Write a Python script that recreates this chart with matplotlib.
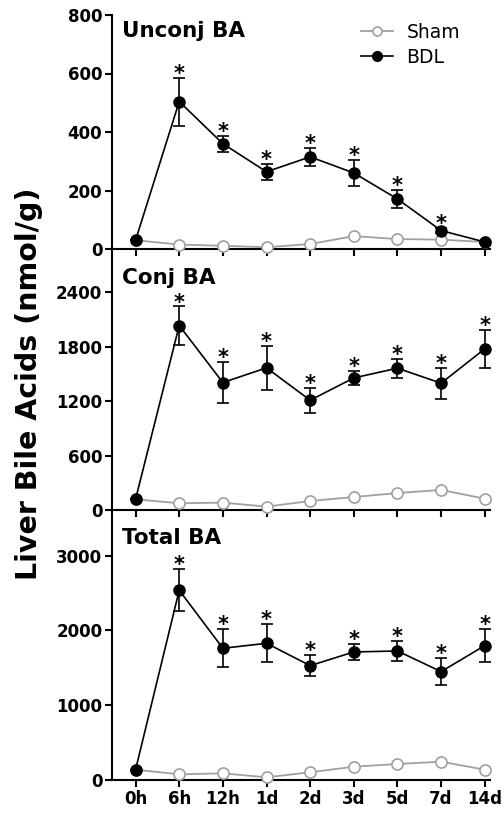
import numpy as np
import matplotlib
matplotlib.use("Agg")
import matplotlib.pyplot as plt
from matplotlib.lines import Line2D

plt.rcParams['font.family'] = ['DejaVu Sans']

### time points on the x axis
times = ["0h", "6h", "12h", "1d", "2d", "3d", "5d", "7d", "14d"]

### Unconjugated bile acids (nmol/g)
unconj_sham = [30, 15, 11, 6, 17, 44, 34, 32, 24]
unconj_bdl = [30, 504, 360, 264, 315, 260, 171, 63, 24]
unconj_bdl_err = [0, 82, 28, 27, 32, 45, 31, 10, 5]
unconj_star = [False, True, True, True, True, True, True, True, False]

### Conjugated bile acids (nmol/g)
conj_sham = [118, 74, 81, 37, 99, 143, 187, 221, 125]
conj_bdl = [118, 2032, 1404, 1566, 1209, 1455, 1562, 1397, 1775]
conj_bdl_err = [0, 210, 224, 242, 136, 81, 103, 172, 213]
conj_star = [False, True, True, True, True, True, True, True, True]

### Total bile acids (nmol/g)
total_sham = [138, 76, 89, 36, 103, 178, 214, 245, 138]
total_bdl = [138, 2537, 1761, 1828, 1529, 1712, 1725, 1449, 1797]
total_bdl_err = [0, 281, 254, 254, 143, 103, 139, 178, 218]
total_star = [False, True, True, True, True, True, True, True, True]

panels = [
    ("Unconj BA", unconj_sham, unconj_bdl, unconj_bdl_err, unconj_star, 800, [0, 200, 400, 600, 800]),
    ("Conj BA", conj_sham, conj_bdl, conj_bdl_err, conj_star, 2875, [0, 600, 1200, 1800, 2400]),
    ("Total BA", total_sham, total_bdl, total_bdl_err, total_star, 3610, [0, 1000, 2000, 3000]),
]

W, H = 503, 815
fig = plt.figure(figsize=(W / 100, H / 100), dpi=100)

# pixel boxes (top, bottom) of each panel, and title drop from the top
boxes = [(15, 249), (249, 510), (510, 780)]
title_drop = [6, 19, 18]
left_px, right_px = 112, 490

x = np.arange(len(times))
gray = "#a0a0a0"

for i, (title, sham, bdl, err, star, ymax, yticks) in enumerate(panels):
    top, bot = boxes[i]
    ax = fig.add_axes([left_px / W, 1 - bot / H, (right_px - left_px) / W, (bot - top) / H])
    ax.patch.set_alpha(0)

    ax.plot(x, sham, "-o", color=gray, lw=1.3, ms=8, mfc="white", mec=gray, mew=1.2,
            clip_on=False, zorder=3)
    ax.errorbar(x, bdl, yerr=err, fmt="-o", color="black", lw=1.2, ms=8, elinewidth=1.2,
                capsize=4, capthick=1.2, clip_on=False, zorder=4)

    for xi, yi, ei, s in zip(x, bdl, err, star):
        if s:
            ax.annotate("*", (xi, yi + ei), xytext=(0, -1.5), textcoords="offset points",
                        ha="center", va="baseline", fontsize=15, fontweight="bold")

    ax.set_xlim(-0.54, 8.12)
    ax.set_ylim(0, ymax)
    ax.set_yticks(yticks)
    ax.set_xticks(x)
    if i == 2:
        ax.set_xticklabels(times)
    else:
        ax.set_xticklabels([])

    for sp in ["top", "right"]:
        ax.spines[sp].set_visible(False)
    for sp in ["left", "bottom"]:
        ax.spines[sp].set_linewidth(1.5)
    ax.tick_params(axis="both", direction="out", length=5, width=1.5,
                   labelsize=12, pad=2)
    for lab in ax.get_xticklabels() + ax.get_yticklabels():
        lab.set_fontweight("bold")

    ax.text(10 / (right_px - left_px), 1 - title_drop[i] / (bot - top), title,
            transform=ax.transAxes, ha="left", va="top", fontsize=15.5, fontweight="bold")

    if i == 0:
        handles = [
            Line2D([], [], color=gray, lw=1.3, marker="o", ms=6.5, mfc="white", mec=gray, mew=1.2),
            Line2D([], [], color="black", lw=1.2, marker="o", ms=7),
        ]
        ax.legend(handles, ["Sham", "BDL"], loc="upper right",
                  bbox_to_anchor=((465 - left_px + 10) / (right_px - left_px), 1.03),
                  frameon=False, fontsize=13.5, handlelength=1.7, handletextpad=0.7,
                  labelspacing=0.32, borderpad=0.3)

fig.text(29 / W, 1 - 384 / H, "Liver Bile Acids (nmol/g)", rotation=90,
         ha="center", va="center", fontsize=20.5, fontweight="bold")

fig.savefig("out.png", dpi=100)
